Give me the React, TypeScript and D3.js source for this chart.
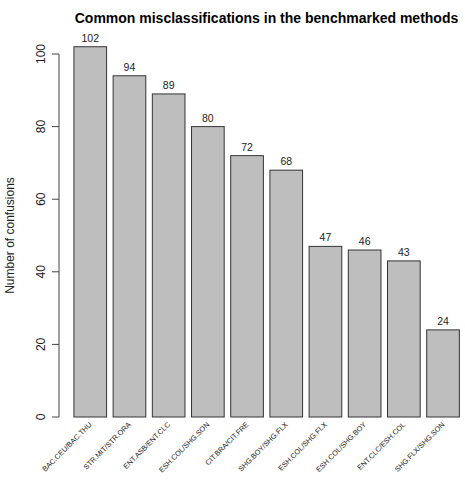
import React, { useEffect, useRef } from "react";
import * as d3 from "d3";

// confusion pairs and how often each one happened
const pairs = [
  "BAC.CEU/BAC.THU",
  "STR.MIT/STR.ORA",
  "ENT.ASB/ENT.CLC",
  "ESH.COL/SHG.SON",
  "CIT.BRA/CIT.FRE",
  "SHG.BOY/SHG.FLX",
  "ESH.COL/SHG.FLX",
  "ESH.COL/SHG.BOY",
  "ENT.CLC/ESH.COL",
  "SHG.FLX/SHG.SON",
];
const counts = [102, 94, 89, 80, 72, 68, 47, 46, 43, 24];
const yTicks = [0, 20, 40, 60, 80, 100];

const width = 465;
const height = 481;

export default function App() {
  const svgRef = useRef<SVGSVGElement | null>(null);

  useEffect(() => {
    if (!svgRef.current) return;
    const svg = d3.select(svgRef.current);
    svg.selectAll("*").remove();

    const font = "Liberation Sans, Arial, sans-serif";

    const x = d3.scaleBand<string>()
      .domain(pairs)
      .range([67.4, 465.9])
      .paddingInner(1 / 6)
      .paddingOuter(1 / 6);

    const y = d3.scaleLinear().domain([0, 100]).range([417, 54]);

    // bars
    svg.append("g")
      .selectAll("rect")
      .data(counts)
      .join("rect")
      .attr("x", (_, i) => x(pairs[i])!)
      .attr("y", d => y(d))
      .attr("width", x.bandwidth())
      .attr("height", d => y(0) - y(d))
      .attr("fill", "#bebebe")
      .attr("stroke", "#333")
      .attr("stroke-width", 1);

    // value labels on top
    svg.append("g")
      .selectAll("text")
      .data(counts)
      .join("text")
      .attr("x", (_, i) => x(pairs[i])! + x.bandwidth() / 2)
      .attr("y", d => y(d) - 5)
      .attr("text-anchor", "middle")
      .style("font-family", font)
      .style("font-size", "10.5px")
      .attr("fill", "#222")
      .text(d => d);

    // y axis, R style
    const axis = svg.append("g");
    axis.append("line")
      .attr("x1", 59).attr("x2", 59)
      .attr("y1", y(0)).attr("y2", y(100))
      .attr("stroke", "#444");
    axis.selectAll("line.tick")
      .data(yTicks)
      .join("line")
      .attr("class", "tick")
      .attr("x1", 52).attr("x2", 59)
      .attr("y1", d => y(d)).attr("y2", d => y(d))
      .attr("stroke", "#444");
    axis.selectAll("text")
      .data(yTicks)
      .join("text")
      .attr("transform", d => `translate(44.5,${y(d)}) rotate(-90)`)
      .attr("text-anchor", "middle")
      .style("font-family", font)
      .style("font-size", "12px")
      .attr("fill", "#222")
      .text(d => d);

    svg.append("text")
      .attr("transform", `translate(14,${(y(0) + y(100)) / 2}) rotate(-90)`)
      .attr("text-anchor", "middle")
      .style("font-family", font)
      .style("font-size", "12px")
      .attr("fill", "#222")
      .text("Number of confusions");

    // slanted category labels
    svg.append("g")
      .selectAll("text")
      .data(pairs)
      .join("text")
      .attr("transform", d => `translate(${x(d)! + x.bandwidth() / 2 + 2},${425}) rotate(-45)`)
      .attr("text-anchor", "end")
      .style("font-family", font)
      .style("font-size", "7.3px")
      .attr("fill", "#222")
      .text(d => d);

    svg.append("text")
      .attr("x", 266.5)
      .attr("y", 23)
      .attr("text-anchor", "middle")
      .style("font-family", font)
      .style("font-size", "14px")
      .style("font-weight", "bold")
      .text("Common misclassifications in the benchmarked methods");
  }, []);

  return (
    <svg
      ref={svgRef}
      width={width}
      height={height}
      style={{ position: "absolute", left: 0, top: 0, background: "#fff" }}
    />
  );
}
